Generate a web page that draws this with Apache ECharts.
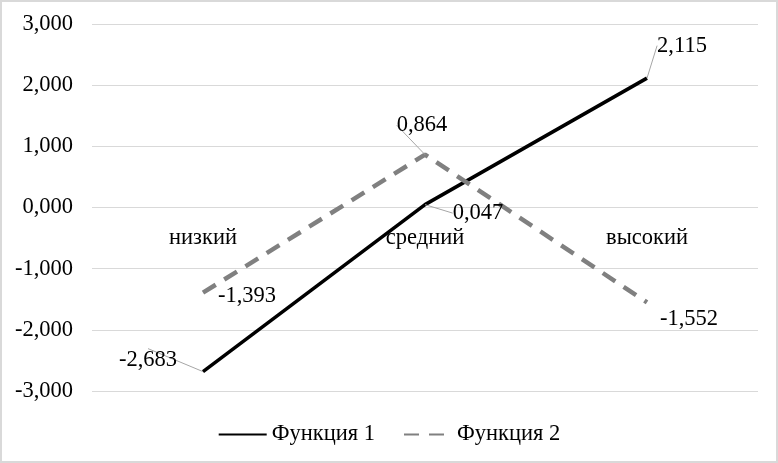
<!DOCTYPE html>
<html><head><meta charset="utf-8">
<script src="https://cdn.jsdelivr.net/npm/echarts@6/dist/echarts.min.js"></script>
<style>html,body{margin:0;padding:0;background:#fff}#c{width:778px;height:463px;box-sizing:border-box;border:2px solid #d9d9d9}</style>
</head><body><div id="c"></div>
<script>
const categories = ['низкий', 'средний', 'высокий'];
const func1 = [-2.683, 0.047, 2.115];
const func2 = [-1.393, 0.864, -1.552];
const seriesNames = ['Функция 1', 'Функция 2'];
const yTicks = { min: -3, max: 3, interval: 1 };

const labelShift = [
  [[-55, 2], [53, 22], [35, -19]],
  [[44, 17], [-3, -16], [42, 30]]
];
const leader = [[true, true, true], [false, true, false]];
const font = '"Liberation Serif", "Times New Roman", serif';
const fs = 22.5;
const fmt = v => v.toFixed(3).replace('.', ',');

const gridTop = 22, gridBottom = 70, H = 463;
const plotH = H - gridTop - gridBottom;
const zeroOffset = plotH * (0 - yTicks.min) / (yTicks.max - yTicks.min);

const chart = echarts.init(document.getElementById('c'));
const mk = (name, values, si, color, type, width) => ({
  name, type: 'line', symbol: 'circle', symbolSize: 0, showSymbol: true, smooth: false,
  data: values.map((v, i) => ({ value: v, labelLine: { show: leader[si][i] } })),
  lineStyle: { color, width, type, cap: 'butt' }, itemStyle: { color },
  label: { show: true, position: 'top', distance: 2, formatter: p => fmt(p.value), color: '#000', fontFamily: font, fontSize: fs },
  labelLine: { lineStyle: { color: '#a6a6a6', width: 1 } },
  labelLayout: p => ({ dx: labelShift[si][p.dataIndex][0], dy: labelShift[si][p.dataIndex][1] })
});
chart.setOption({
  animation: false,
  textStyle: { fontFamily: font },
  grid: { left: 90, right: 18, top: gridTop, bottom: gridBottom },
  legend: {
    bottom: 10, left: 'center', itemWidth: 48, itemHeight: 12, itemGap: 28,
    itemStyle: { opacity: 0 },
    textStyle: { fontFamily: font, fontSize: fs, color: '#000' },
    data: seriesNames
  },
  xAxis: {
    type: 'category', data: categories, boundaryGap: true, offset: -zeroOffset,
    axisLine: { show: false, onZero: false }, axisTick: { show: false },
    axisLabel: { fontFamily: font, fontSize: fs, color: '#000', margin: 21 }
  },
  yAxis: {
    type: 'value', min: yTicks.min, max: yTicks.max, interval: yTicks.interval,
    axisLine: { show: false }, axisTick: { show: false },
    axisLabel: { fontFamily: font, fontSize: fs, color: '#000', margin: 19, formatter: v => fmt(v) },
    splitLine: { lineStyle: { color: '#d9d9d9', width: 1 } }
  },
  series: [
    mk(seriesNames[0], func1, 0, '#000000', 'solid', 3.5),
    mk(seriesNames[1], func2, 1, '#808080', [15, 10], 4.5)
  ]
});
</script></body></html>
